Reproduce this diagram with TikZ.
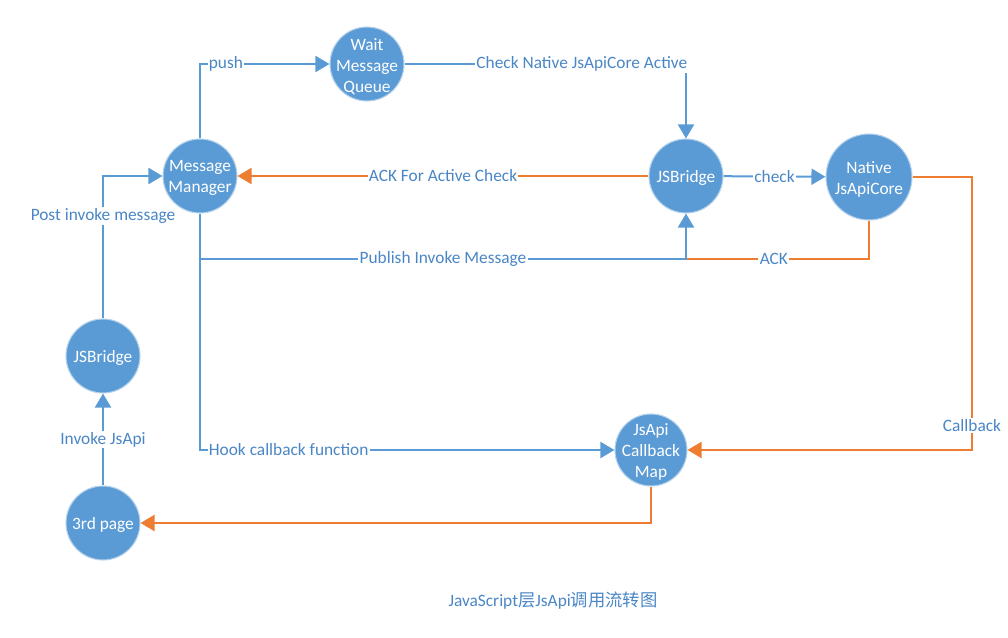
\documentclass[tikz,border=0pt]{standalone}
\usepackage{fontspec}
\setmainfont{Carlito}
\newfontfamily\cjk{Noto Sans CJK SC}
\usetikzlibrary{arrows.meta,calc}
\definecolor{nodeblue}{HTML}{5B9BD5}
\definecolor{lineblue}{HTML}{5B9BD5}
\definecolor{txtblue}{HTML}{4A86C6}
\definecolor{lineorange}{HTML}{ED7D31}
\begin{document}
\begin{tikzpicture}[x=0.75pt,y=-0.75pt,
  bub/.style={circle,fill=nodeblue,draw=nodeblue!45!white,line width=0.8pt,inner sep=0pt,
    minimum size=55.5pt},
  btxt/.style={text=white,align=center,inner sep=0pt,yshift=-1.8pt,font=\fontsize{13}{15.75}\selectfont},
  bl/.style={draw=lineblue,line width=1.5pt,-{Triangle[length=10.5pt,width=12pt]}},
  orn/.style={draw=lineorange,line width=1.5pt,-{Triangle[length=10.5pt,width=12pt]}},
  ornp/.style={draw=lineorange,line width=1.5pt},
  lab/.style={fill=white,inner sep=1pt,text=txtblue,font=\fontsize{13}{15.75}\selectfont}]
\useasboundingbox (0,0) rectangle (1008,638);
% nodes
\node[bub,label={[btxt]center:{Wait\\Message\\Queue}}] (wmq) at (367,64) {};
\node[bub,label={[btxt]center:{Message\\Manager}}] (mm) at (200,176) {};
\node[bub,label={[btxt]center:{JSBridge}}] (jsbR) at (686,176) {};
\node[bub,minimum size=64.5pt,label={[btxt]center:{Native\\JsApiCore}}] (nat) at (869,177) {};
\node[bub,label={[btxt]center:{JSBridge}}] (jsbL) at (103,356) {};
\node[bub,minimum size=54pt,label={[btxt]center:{JsApi\\Callback\\Map}}] (cbm) at (651,450) {};
\node[bub,label={[btxt]center:{3rd page}}] (page) at (103,523) {};
\coordinate (pubL) at (200,259);
\coordinate (pubR) at (686,259);
\coordinate (cbc) at (972,450);
% connectors
\draw[bl] (page) -- (jsbL) node[midway,lab] {Invoke JsApi};
\draw[bl] (jsbL.north) |- (mm.west) node[pos=0.36,lab] {Post invoke message};
\draw[bl] (mm.north) |- (wmq.west) node[pos=0.6,lab] {push};
\draw[bl] (wmq.east) -| (jsbR.north) node[pos=0.315,lab] {Check Native JsApiCore Active};
\draw[bl] (jsbR) -- (nat) node[midway,lab] {check};
\draw[orn] (jsbR) -- (mm) node[midway,lab] {ACK For Active Check};
\draw[bl] (mm.south) |- (cbm.west) node[pos=0.607,lab] {Hook callback function};
\draw[ornp] (nat.south) |- (pubR) node[pos=0.76,lab] {ACK};
\draw[bl] (pubL) -- (pubR) node[midway,lab] {Publish Invoke Message} -- (jsbR.south);
\draw[orn] (nat.east) -| (cbc) node[pos=0.955,lab] {Callback} -- (cbm.east);
\draw[orn] (cbm.south) |- (page.east);
% caption
\node[text=txtblue,font=\fontsize{13}{15.75}\selectfont] (cap) at (553,601) {JavaScript{\cjk 层}JsApi{\cjk 调用流转图}};
\end{tikzpicture}
\end{document}
